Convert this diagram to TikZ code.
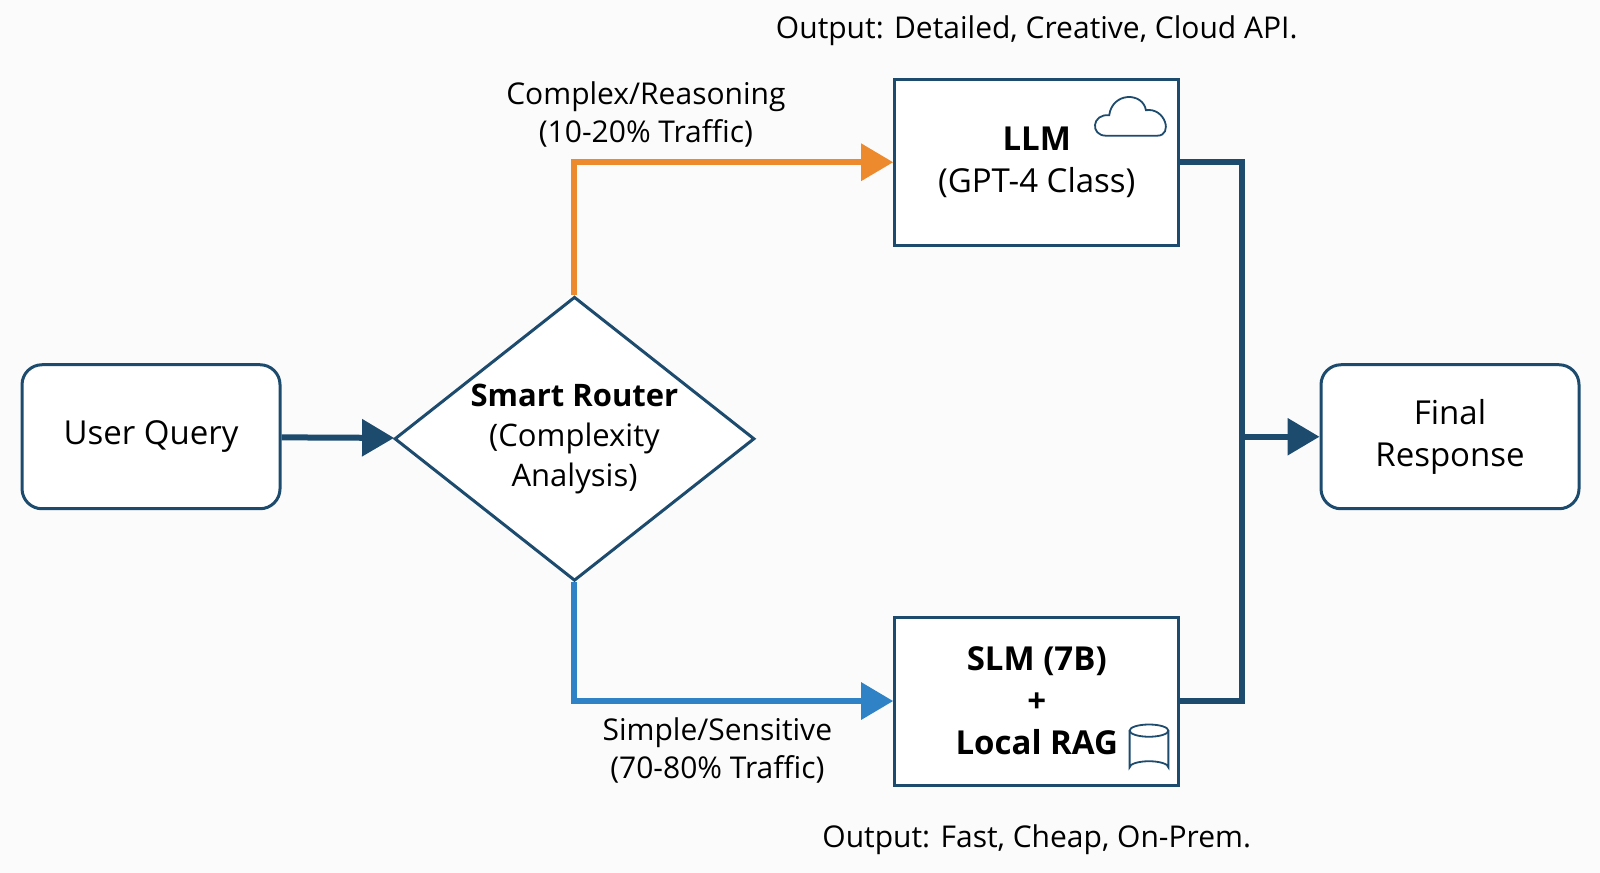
\documentclass[tikz,border=0pt]{standalone}
\usepackage{fontspec}
\setmainfont{Open Sans}
\usetikzlibrary{shapes.geometric,arrows.meta}
\definecolor{dk}{HTML}{1D4B6E}
\definecolor{org}{HTML}{EE8A2E}
\definecolor{blu}{HTML}{2F82C6}
\begin{document}
\begin{tikzpicture}[x=0.5102pt,y=-0.5102pt,
 box/.style={draw=dk,line width=1.5pt,fill=white,align=center,font=\fontsize{16.5}{21}\selectfont,inner sep=0pt},
 rbox/.style={box,rounded corners=10pt},
 lbl/.style={align=center,font=\fontsize{15}{19}\selectfont},
 arr/.style={line width=3pt,-{Triangle[length=16pt,width=18pt]}}]
\fill[white!97!gray] (0,0) rectangle (1568,855.5);
\useasboundingbox (0,0) rectangle (1568,855.5);
\node[rbox,minimum width=129pt,minimum height=72pt] (uq) at (148,428) {User Query};
\node[box,diamond,minimum width=180pt,minimum height=142pt,aspect=1.27,inner sep=0pt,font=\fontsize{15.5}{20}\selectfont] (sr) at (563,430) {\textbf{Smart Router}\\(Complexity\\Analysis)};
\node[box,minimum width=142pt,minimum height=83pt] (llm) at (1016,159) {\textbf{LLM}\\(GPT-4 Class)};
\node[box,minimum width=142pt,minimum height=84pt] (slm) at (1016,687) {\textbf{SLM (7B)}\\\textbf{+}\\\textbf{Local RAG}};
\node[rbox,minimum width=129pt,minimum height=72pt] (fr) at (1421,428) {Final\\Response};
\coordinate (j) at (1217,428);
\draw[arr,dk] (uq) -- (sr);
\draw[arr,org] (sr.north) |- (llm.west);
\draw[arr,blu] (sr.south) |- (slm.west);
\draw[dk,line width=3pt] (llm.east) -| (j) |- (slm.east);
\draw[arr,dk] (j) -- (fr);
\node[lbl] (l1) at (633,112) {Complex/Reasoning\\(10-20\% Traffic)};
\node[lbl] (l2) at (703,735) {Simple/Sensitive\\(70-80\% Traffic)};
\node[lbl] (o1) at (1016,30) {Output: Detailed, Creative, Cloud API.};
\node[lbl] (o2) at (1016,823) {Output: Fast, Cheap, On-Prem.};
% cloud
\draw[dk,line width=0.9pt,fill=white] (1084,133) .. controls (1068,133) and (1070,111) .. (1087,113) .. controls (1090,90) and (1120,90) .. (1123,108) .. controls (1142,105) and (1150,133) .. (1134,133) -- cycle;
% cylinder
\draw[dk,line width=0.9pt] (1107,716) -- (1107,752) arc (180:360:19 and 6) -- (1145,716);
\draw[dk,line width=0.9pt] (1126,716) ellipse (19 and 6);
\end{tikzpicture}
\end{document}
